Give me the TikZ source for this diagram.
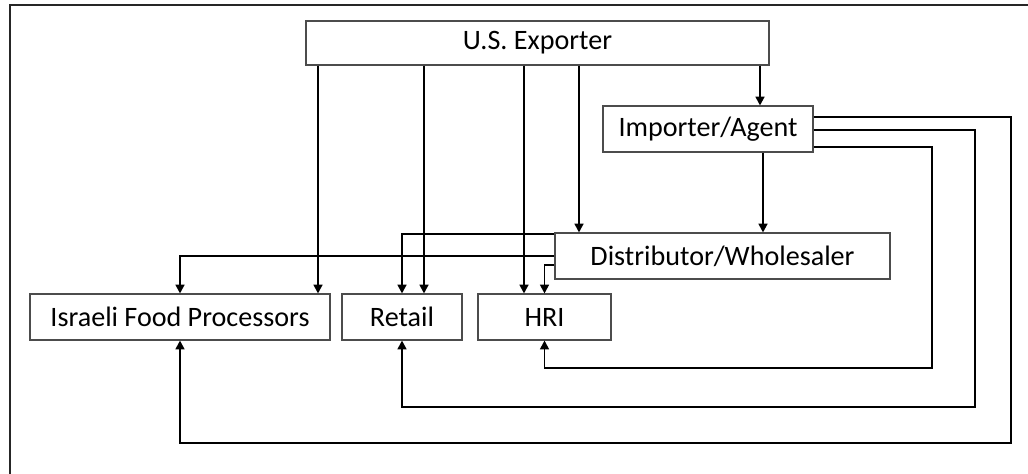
\documentclass[tikz,border=0pt]{standalone}
\usepackage{fontspec}
\setmainfont{Carlito}
\usetikzlibrary{arrows.meta}

\begin{document}
\begin{tikzpicture}[
  box/.style={draw=black!70, line width=0.6pt, minimum height=0.92cm, inner sep=0pt, font=\fontsize{16}{19}\selectfont},
  link/.style={line width=1.1pt, -{Triangle[width=5pt,length=5pt]}}]
\clip (0,0) rectangle (20.56,-9.46);
\draw[line width=1.1pt, black!85] (0.2,-10) -- (0.2,-0.1) -- (21,-0.1);
% boxes
\node[box, minimum width=9.26cm, minimum height=0.88cm] (exp) at (10.75,-0.86) {U.S. Exporter};
\node[box, minimum width=4.2cm] (imp) at (14.16,-2.58) {Importer/Agent};
\node[box, minimum width=6.7cm] (dis) at (14.45,-5.12) {Distributor/Wholesaler};
\node[box, minimum width=6cm] (ifp) at (3.6,-6.34) {Israeli Food Processors};
\node[box, minimum width=2.4cm] (ret) at (8.04,-6.34) {Retail};
\node[box, minimum width=2.66cm] (hri) at (10.89,-6.34) {HRI};
% straight down from the exporter
\draw[link] (exp.south -| 6.36,0) -- (ifp.north -| 6.36,0);
\draw[link] (exp.south -| 8.48,0) -- (ret.north -| 8.48,0);
\draw[link] (exp.south -| 10.48,0) -- (hri.north -| 10.48,0);
\draw[link] (exp.south -| 11.58,0) -- (dis.north -| 11.58,0);
\draw[link] (exp.south -| 15.2,0) -- (imp.north -| 15.2,0);
\draw[link] (imp.south -| 15.26,0) -- (dis.north -| 15.26,0);
% distributor to the three outlets
\draw[link] (dis.west |- 0,-4.68) -| (ret.north);
\draw[link] (dis.west) -| (ifp.north);
\draw[link] (dis.west |- 0,-5.3) -| (hri.north);
% importer round the right side to the outlets
\draw[link] (imp.east |- 0,-2.34) -| (20.22,-8.86) -| (ifp.south);
\draw[link] (imp.east |- 0,-2.6) -| (19.5,-8.14) -| (ret.south);
\draw[link] (imp.east |- 0,-2.94) -| (18.64,-7.36) -| (hri.south);
\end{tikzpicture}
\end{document}
